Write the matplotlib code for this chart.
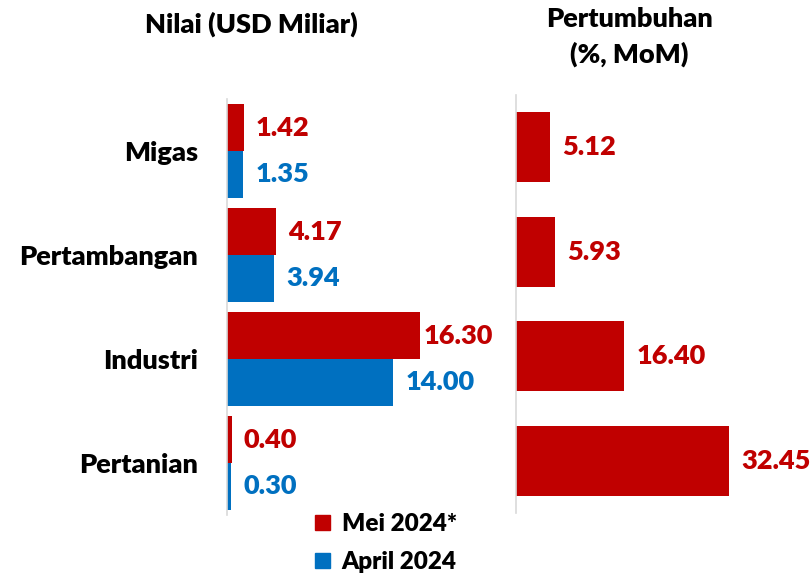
import matplotlib
matplotlib.use("Agg")
import matplotlib.pyplot as plt
import numpy as np
from matplotlib.patches import Patch

categories = ["Migas", "Pertambangan", "Industri", "Pertanian"]
mei_2024 = [1.42, 4.17, 16.30, 0.40]
april_2024 = [1.35, 3.94, 14.00, 0.30]
growth_mom = [5.12, 5.93, 16.40, 32.45]
series_names = ["Mei 2024*", "April 2024"]
title_left = "Nilai (USD Miliar)"
title_right = "Pertumbuhan\n(%, MoM)"

RED = "#C00000"
BLUE = "#0070C0"
WT = 'heavy'
plt.rcParams['font.family'] = ['Lato', 'DejaVu Sans']
plt.rcParams['font.weight'] = WT

W, H = 811, 574
fig = plt.figure(figsize=(W / 100, H / 100), dpi=100)

def ax_rect(x0, y0, x1, y1):
    return [x0 / W, 1 - y1 / H, (x1 - x0) / W, (y1 - y0) / H]

FS = 19.5

# Left axes
axL = fig.add_axes(ax_rect(227, 99, 480, 515))
y = np.arange(len(categories))
h = 0.45
axL.barh(y - h / 2, mei_2024, height=h, color=RED)
axL.barh(y + h / 2, april_2024, height=h, color=BLUE)
axL.set_ylim(len(categories) - 0.5, -0.5)
axL.set_xlim(0, 253 / 11.84)
pad_mei = [1.0, 1.0, 0.3, 1.0]
for i in range(len(categories)):
    axL.text(mei_2024[i] + pad_mei[i], y[i] - h / 2, f"{mei_2024[i]:.2f}", color=RED,
             fontsize=FS, fontweight=WT, va='center', ha='left', clip_on=False)
    axL.text(april_2024[i] + 1.1, y[i] + h / 2, f"{april_2024[i]:.2f}", color=BLUE,
             fontsize=FS, fontweight=WT, va='center', ha='left', clip_on=False)
axL.set_yticks(y)
axL.set_yticklabels(categories, fontsize=FS, fontweight=WT)
axL.tick_params(axis='y', length=0, pad=21)
axL.set_xticks([])
for s in ['top', 'right', 'bottom']:
    axL.spines[s].set_visible(False)
axL.spines['left'].set_color('#D9D9D9')
axL.spines['left'].set_linewidth(1.2)

# Right axes
axR = fig.add_axes(ax_rect(516, 95, 811, 513))
axR.barh(y, growth_mom, height=0.67, color=RED)
axR.set_ylim(len(categories) - 0.5, -0.5)
axR.set_xlim(0, 295 / 6.57)
for i in range(len(categories)):
    axR.text(growth_mom[i] + 1.9, y[i], f"{growth_mom[i]:.2f}", color=RED,
             fontsize=FS, fontweight=WT, va='center', ha='left', clip_on=False)
axR.set_xticks([])
axR.set_yticks([])
for s in ['top', 'right', 'bottom']:
    axR.spines[s].set_visible(False)
axR.spines['left'].set_color('#D9D9D9')
axR.spines['left'].set_linewidth(1.2)

fig.text(251 / W, 1 - 24 / H, title_left, ha='center', va='center', fontsize=FS, fontweight=WT)
fig.text(629 / W, 1 - 37 / H, title_right, ha='center', va='center', fontsize=FS,
         fontweight=WT, linespacing=1.5)

handles = [Patch(color=RED, label=series_names[0]), Patch(color=BLUE, label=series_names[1])]
fig.legend(handles=handles, loc='center', bbox_to_anchor=(386 / W, 1 - 543 / H),
           frameon=False, prop={'weight': WT, 'size': 17.5},
           handlelength=0.6, handleheight=0.6, handletextpad=0.5, labelspacing=0.65)

fig.savefig("out.png", dpi=100)
